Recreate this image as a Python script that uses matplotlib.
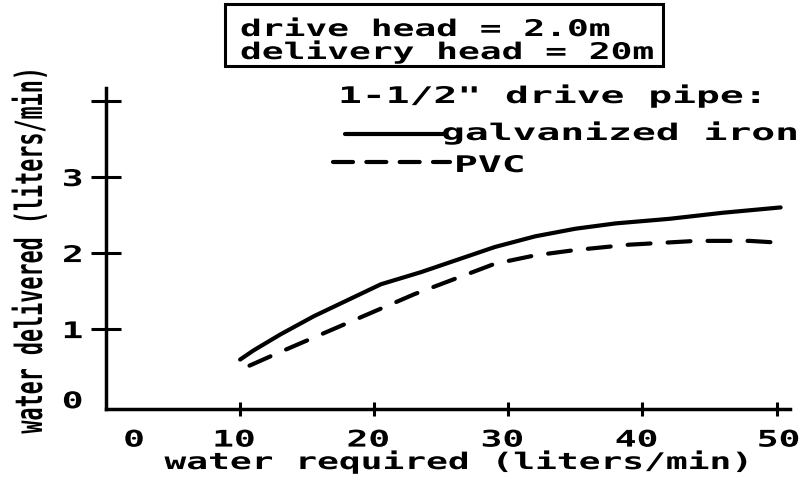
import matplotlib
matplotlib.use("Agg")
import matplotlib.pyplot as plt
from matplotlib.patheffects import AbstractPathEffect
from matplotlib.transforms import Affine2D, ScaledTranslation
from matplotlib.lines import Line2D
from matplotlib.patches import Rectangle

# ---- data -------------------------------------------------------------
galv_flow_req = [10, 11, 13, 15.5, 18, 20.5, 23.5, 26.5, 29, 32, 35, 38, 42, 46, 50.3]
galv_delivered = [0.60, 0.72, 0.93, 1.17, 1.38, 1.59, 1.75, 1.93, 2.08, 2.22, 2.32, 2.39, 2.45, 2.53, 2.60]

pvc_flow_req = [10.7, 13, 15.5, 18, 20.5, 23, 26, 29, 32, 35, 39, 44, 48, 50.8]
pvc_delivered = [0.52, 0.70, 0.89, 1.08, 1.27, 1.46, 1.66, 1.86, 1.97, 2.04, 2.11, 2.16, 2.16, 2.13]

x_ticks = [0, 10, 20, 30, 40, 50]
x_tick_labels = ["0", "10", "20", "30", "40", "50"]
y_ticks = [0, 1, 2, 3, 4]
y_tick_labels = ["0", "1", "2", "3", ""]

series_labels = ["galvanized iron", "PVC"]
legend_title = '1-1/2" drive pipe:'
box_lines = ["drive head = 2.0m", "delivery head = 20m"]
x_label = "water required (liters/min)"
y_label = "water delivered (liters/min)"

# ---- styling ----------------------------------------------------------
FONT = "DejaVu Sans Mono"
FS = 16.5          # body text size (pt)
WIDE = 1.58        # horizontal glyph stretch for the plotter-style lettering
WIDE_KEY = 1.73    # the key is lettered a little wider
YLAB_FS = 19
YLAB_KX, YLAB_KY = 0.824, 1.42   # tall, narrow lettering on the vertical title


class Widen(AbstractPathEffect):
    """Stretch glyph outlines along (kx) and across (ky) the text direction."""

    def __init__(self, kx, anchor="left", ky=1.0):
        super().__init__()
        self.kx = kx
        self.ky = ky
        self.anchor = anchor

    def draw_path(self, renderer, gc, tpath, affine, rgbFace=None):
        ext = tpath.get_extents()
        if self.anchor == "center":
            cx = 0.5 * (ext.x0 + ext.x1)
        elif self.anchor == "right":
            cx = ext.x1
        else:
            cx = 0.0
        stretch = Affine2D().translate(-cx, 0).scale(self.kx, self.ky).translate(cx, 0)
        renderer.draw_path(gc, tpath, stretch + affine, rgbFace)


W, H = 801, 479
fig = plt.figure(figsize=(W / 100, H / 100), dpi=100)
fig.patch.set_facecolor("white")


def fx(px):
    return px / W


def fy(py):
    return 1 - py / H


ax = fig.add_axes([fx(106), fy(409), (790 - 106) / W, (409 - 88) / H])
ax.set_facecolor("white")
ax.set_xlim(0, 51.0)
ax.set_ylim(-0.05, 4.17)

# curves
ax.plot(galv_flow_req, galv_delivered, color="black", lw=3,
        solid_capstyle="round", solid_joinstyle="round")
ax.plot(pvc_flow_req, pvc_delivered, color="black", lw=3,
        linestyle=(0, (5.5, 4.1)), dash_capstyle="round")

# axes frame
for side in ("top", "right"):
    ax.spines[side].set_visible(False)
for side in ("left", "bottom"):
    ax.spines[side].set_linewidth(2.5)
    ax.spines[side].set_color("black")

text_kw = dict(fontfamily=FONT, fontweight="bold", color="black")

ax.set_xticks(x_ticks)
ax.set_xticklabels(x_tick_labels, fontsize=FS, **text_kw)
ax.set_yticks(y_ticks)
ax.set_yticklabels(y_tick_labels, fontsize=FS, **text_kw)
ax.tick_params(axis="y", direction="inout", length=21.6, width=2.2, pad=6, colors="black")
ax.tick_params(axis="x", direction="inout", length=9.4, width=2.2, pad=9.4, colors="black")

for lab in ax.get_xticklabels():
    lab.set_path_effects([Widen(WIDE, "center")])
for lab in ax.get_yticklabels():
    lab.set_path_effects([Widen(WIDE, "right")])

# no tick marks at the origin; nudge the x labels like the hand lettering
xt = ax.xaxis.get_major_ticks()
yt = ax.yaxis.get_major_ticks()
xt[0].tick1line.set_visible(False)
yt[0].tick1line.set_visible(False)
x_nudge = [28, -6, -6, -6, -6, 2]
for tick, dx in zip(xt, x_nudge):
    lab = tick.label1
    lab.set_transform(lab.get_transform() + ScaledTranslation(dx / 100, 0, fig.dpi_scale_trans))
yt[0].label1.set_transform(yt[0].label1.get_transform()
                           + ScaledTranslation(0, 6 / 100, fig.dpi_scale_trans))

# axis titles
ax.set_xlabel(x_label, fontsize=FS, **text_kw)
ax.xaxis.label.set_verticalalignment("baseline")
ax.xaxis.set_label_coords(0.513, -0.187)
ax.xaxis.label.set_path_effects([Widen(WIDE, "center")])

ax.set_ylabel(y_label, fontsize=YLAB_FS, **text_kw)
ax.yaxis.label.set_verticalalignment("baseline")
ax.yaxis.set_label_coords(-0.0936, 0.495)
ax.yaxis.label.set_path_effects([Widen(YLAB_KX, "center", YLAB_KY)])

# boxed test conditions
fig.add_artist(Rectangle((fx(225), fy(66)), (663 - 225) / W, (66 - 4) / H,
                         transform=fig.transFigure, fill=False,
                         edgecolor="black", linewidth=2.2))
for line, base in zip(box_lines, (36, 59)):
    t = fig.text(fx(240), fy(base), line, ha="left", va="baseline", fontsize=FS, **text_kw)
    t.set_path_effects([Widen(WIDE, "left")])

# key
t = fig.text(fx(338), fy(103), legend_title, ha="left", va="baseline", fontsize=FS, **text_kw)
t.set_path_effects([Widen(WIDE_KEY, "left")])

fig.add_artist(Line2D([fx(345), fx(443)], [fy(134), fy(134)], transform=fig.transFigure,
                      color="black", lw=3, solid_capstyle="round"))
t = fig.text(fx(441), fy(140), series_labels[0], ha="left", va="baseline", fontsize=FS, **text_kw)
t.set_path_effects([Widen(WIDE_KEY, "left")])

fig.add_artist(Line2D([fx(333), fx(450)], [fy(162), fy(162)], transform=fig.transFigure,
                      color="black", lw=3, linestyle=(0, (4.8, 3.2)), dash_capstyle="round"))
t = fig.text(fx(454), fy(172), series_labels[1], ha="left", va="baseline", fontsize=FS, **text_kw)
t.set_path_effects([Widen(WIDE_KEY, "left")])

fig.savefig("out.png", dpi=100, facecolor="white")
